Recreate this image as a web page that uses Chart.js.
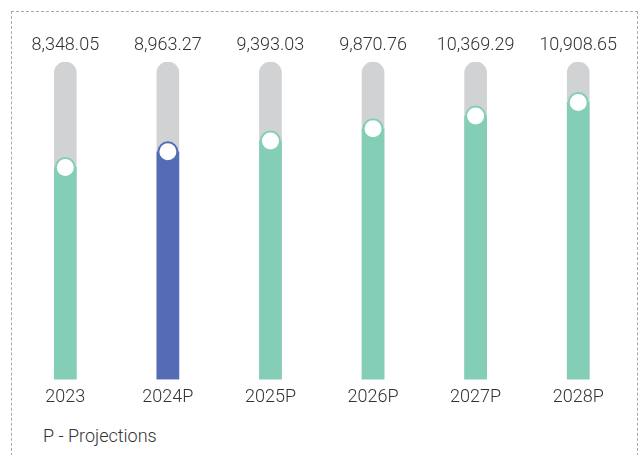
<!DOCTYPE html>
<html>
<head>
<meta charset="utf-8">
<script src="https://cdn.jsdelivr.net/npm/chart.js@4/dist/chart.umd.min.js"></script>
<style>
  html, body { margin: 0; padding: 0; background: #fff; }
  body { width: 641px; height: 455px; position: relative; overflow: hidden; font-family: Roboto, sans-serif; }
  #frame { position: absolute; left: 11px; top: 11px; width: 627px; height: 470px; border: 1px dashed #a8a8a8; box-sizing: border-box; }
  #wrap { position: absolute; left: 0; top: 0; width: 641px; height: 415px; }
  #note { position: absolute; left: 43px; top: 426px; font-size: 18px; font-weight: 300; color: #333; line-height: 20px; }
</style>
</head>
<body>
<div id="frame"></div>
<div id="wrap"><canvas id="c"></canvas></div>
<div id="note">P - Projections</div>
<script>
const categories = ['2023', '2024P', '2025P', '2026P', '2027P', '2028P'];
const values = [8348.05, 8963.27, 9393.03, 9870.76, 10369.29, 10908.65];
const trackMax = 12500;
const highlight = '2024P';

const TEAL = '#84CEB7';
const BLUE = '#536CB5';
const GRAY = '#D1D2D4';
const fills = categories.map(c => c === highlight ? BLUE : TEAL);
const fmt = v => v.toLocaleString('en-US', { minimumFractionDigits: 2, maximumFractionDigits: 2 });

const valueLabels = {
  id: 'valueLabels',
  afterDatasetsDraw(chart) {
    const ctx = chart.ctx;
    const meta = chart.getDatasetMeta(0);
    ctx.save();
    ctx.font = '300 18px Roboto';
    ctx.fillStyle = '#333';
    ctx.textAlign = 'center';
    ctx.textBaseline = 'middle';
    meta.data.forEach((bar, i) => {
      ctx.fillText(fmt(values[i]), bar.x, bar.y - 17);
    });
    ctx.restore();
  }
};

new Chart(document.getElementById('c'), {
  data: {
    labels: categories,
    datasets: [
      {
        type: 'bar',
        data: categories.map(() => trackMax),
        backgroundColor: GRAY,
        barThickness: 22,
        borderRadius: { topLeft: 11, topRight: 11, bottomLeft: 0, bottomRight: 0 },
        borderSkipped: false,
        grouped: false,
        order: 3
      },
      {
        type: 'bar',
        data: values,
        backgroundColor: fills,
        barThickness: 22,
        grouped: false,
        order: 2
      },
      {
        type: 'line',
        data: values,
        showLine: false,
        pointRadius: 9.5,
        pointBorderWidth: 2,
        pointBackgroundColor: '#ffffff',
        pointBorderColor: fills,
        order: 1
      }
    ]
  },
  options: {
    responsive: true,
    maintainAspectRatio: false,
    animation: false,
    layout: { padding: { top: 62, left: 14, right: 7, bottom: 0 } },
    plugins: { legend: { display: false }, tooltip: { enabled: false } },
    scales: {
      x: {
        grid: { display: false, drawTicks: false },
        border: { display: false },
        ticks: { color: '#333', font: { family: 'Roboto', size: 18, weight: '300' }, padding: 7 }
      },
      y: {
        display: false,
        min: 0,
        max: trackMax
      }
    }
  },
  plugins: [valueLabels]
});
</script>
</body>
</html>
